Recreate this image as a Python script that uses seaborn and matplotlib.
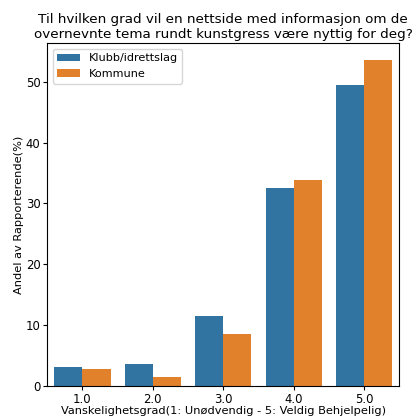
import matplotlib
matplotlib.use("Agg")
import matplotlib.pyplot as plt
import pandas as pd
import seaborn as sns

# Svar per vanskelighetsgrad (prosent av rapporterende)
grader = [1.0, 2.0, 3.0, 4.0, 5.0]
klubb = [3.1, 3.6, 11.5, 32.6, 49.5]
kommune = [2.85, 1.45, 8.55, 33.9, 53.6]

df = pd.DataFrame({
    "grad": grader * 2,
    "andel": klubb + kommune,
    "gruppe": ["Klubb/idrettslag"] * 5 + ["Kommune"] * 5,
})

fig = plt.figure(figsize=(4.17, 4.16), dpi=100)
ax = fig.add_axes([0.113, 0.072, 0.845, 0.824])
sns.barplot(data=df, x="grad", y="andel", hue="gruppe", ax=ax)

ax.set_title("Til hvilken grad vil en nettside med informasjon om de\n"
             "overnevnte tema rundt kunstgress være nyttig for deg?",
             fontsize=9.7, pad=4)
ax.set_xlabel("Vanskelighetsgrad(1: Unødvendig - 5: Veldig Behjelpelig)", fontsize=8.2, labelpad=0)
ax.set_ylabel("Andel av Rapporterende(%)", fontsize=8.2, labelpad=1)
ax.tick_params(labelsize=8.4, length=2.8, pad=2.0)
ax.legend(loc="upper left", fontsize=8.1, title=None)
ax.set_ylim(0, 56.3)

fig.savefig("out.png", dpi=100)
